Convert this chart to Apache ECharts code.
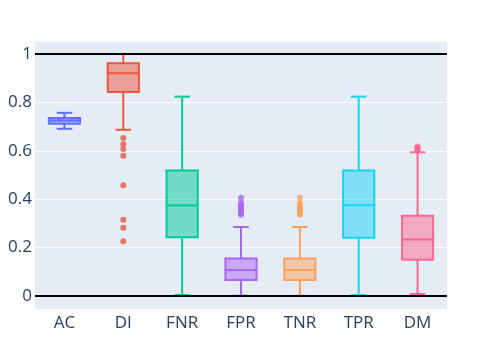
<!DOCTYPE html>
<html>
<head>
<meta charset="utf-8">
<script src="https://cdn.jsdelivr.net/npm/echarts@6/dist/echarts.min.js"></script>
<style>html,body{margin:0;padding:0;background:#fff}#c{width:482px;height:344px}</style>
</head>
<body>
<div id="c"></div>
<script>
const categories = ['AC', 'DI', 'FNR', 'FPR', 'TNR', 'TPR', 'DM'];
// [lower whisker, Q1, median, Q3, upper whisker]
const boxAC  = [0.691, 0.712, 0.725, 0.736, 0.757];
const boxDI  = [0.687, 0.843, 0.921, 0.962, 1.0];
const boxFNR = [0.004, 0.243, 0.374, 0.519, 0.824];
const boxFPR = [0.001, 0.066, 0.107, 0.155, 0.285];
const boxTNR = [0.001, 0.066, 0.107, 0.155, 0.285];
const boxTPR = [0.004, 0.241, 0.375, 0.519, 0.824];
const boxDM  = [0.008, 0.150, 0.233, 0.332, 0.594];
const outAC  = [];
const outDI  = [0.653, 0.627, 0.607, 0.580, 0.458, 0.315, 0.282, 0.226];
const outFNR = [];
const outFPR = [0.406, 0.385, 0.378, 0.371, 0.364, 0.357, 0.350, 0.343, 0.336];
const outTNR = [0.406, 0.384, 0.376, 0.368, 0.360, 0.352, 0.344, 0.337];
const outTPR = [];
const outDM  = [0.600, 0.606, 0.612, 0.618];
const refLines = [0, 1];
const colors = ['#636efa', '#EF553B', '#00cc96', '#ab63fa', '#FFA15A', '#19d3f3', '#FF6692'];

const boxes = [boxAC, boxDI, boxFNR, boxFPR, boxTNR, boxTPR, boxDM];
const outs = [outAC, outDI, outFNR, outFPR, outTNR, outTPR, outDM];

function hexA(h, a) {
  const n = parseInt(h.slice(1), 16);
  return 'rgba(' + ((n >> 16) & 255) + ',' + ((n >> 8) & 255) + ',' + (n & 255) + ',' + a + ')';
}

const boxData = boxes.map((b, i) => [i].concat(b));
const outData = [];
outs.forEach((arr, i) => arr.forEach(v => outData.push({ value: [i, v], itemStyle: { color: colors[i] } })));

const font = '"Open Sans", sans-serif';
const chart = echarts.init(document.getElementById('c'), null, { renderer: 'canvas' });
chart.setOption({
  animation: false,
  backgroundColor: '#fff',
  grid: { left: 35, right: 35, top: 41, bottom: 35, show: true, backgroundColor: '#E5ECF6', borderWidth: 0 },
  xAxis: {
    type: 'category', data: categories,
    axisLine: { show: false }, axisTick: { show: false },
    axisLabel: { color: '#2a3f5f', fontFamily: font, fontSize: 17, margin: 6 },
    splitLine: { show: false }
  },
  yAxis: {
    type: 'value', min: -0.054, max: 1.054, splitNumber: 5,
    axisLine: { show: false }, axisTick: { show: false },
    axisLabel: { color: '#2a3f5f', fontFamily: font, fontSize: 17, margin: 3, showMinLabel: false, showMaxLabel: false },
    splitLine: { lineStyle: { color: '#ffffff', width: 1 } }
  },
  series: [
    {
      type: 'custom',
      data: boxData,
      encode: { x: 0, y: [1, 2, 3, 4, 5] },
      renderItem: function (params, api) {
        const i = params.dataIndex;
        const c = colors[i];
        const x = api.value(0);
        const bw = api.size([1, 0])[0] * 0.53;
        const cw = bw / 2;
        const pMin = api.coord([x, api.value(1)]);
        const pQ1 = api.coord([x, api.value(2)]);
        const pMed = api.coord([x, api.value(3)]);
        const pQ3 = api.coord([x, api.value(4)]);
        const pMax = api.coord([x, api.value(5)]);
        const cx = pMed[0];
        const st = { stroke: c, lineWidth: 2, fill: null };
        return {
          type: 'group',
          children: [
            { type: 'line', shape: { x1: cx, y1: pMin[1], x2: cx, y2: pQ1[1] }, style: st },
            { type: 'line', shape: { x1: cx, y1: pQ3[1], x2: cx, y2: pMax[1] }, style: st },
            { type: 'line', shape: { x1: cx - cw / 2, y1: pMin[1], x2: cx + cw / 2, y2: pMin[1] }, style: st },
            { type: 'line', shape: { x1: cx - cw / 2, y1: pMax[1], x2: cx + cw / 2, y2: pMax[1] }, style: st },
            { type: 'rect', shape: { x: cx - bw / 2, y: pQ3[1], width: bw, height: pQ1[1] - pQ3[1] },
              style: { fill: hexA(c, 0.5), stroke: c, lineWidth: 2 } },
            { type: 'line', shape: { x1: cx - bw / 2, y1: pMed[1], x2: cx + bw / 2, y2: pMed[1] }, style: st }
          ]
        };
      },
      z: 3
    },
    {
      type: 'scatter',
      data: outData,
      symbolSize: 6,
      z: 4
    },
    {
      type: 'line',
      data: [],
      markLine: {
        silent: true, symbol: 'none', label: { show: false },
        lineStyle: { color: '#000', width: 2, type: 'solid' },
        data: refLines.map(v => ({ yAxis: v }))
      },
      z: 5
    }
  ]
});
</script>
</body>
</html>
